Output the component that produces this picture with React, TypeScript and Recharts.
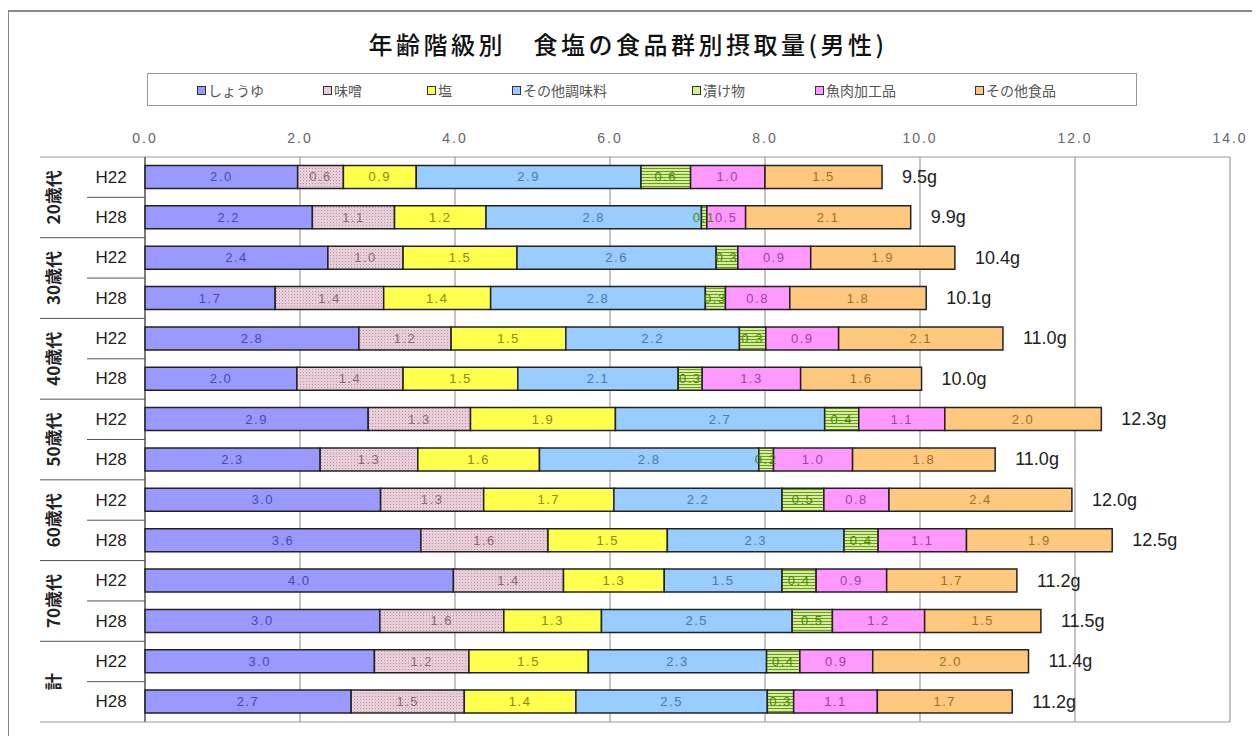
import React from 'react';
import {
  BarChart,
  Bar,
  XAxis,
  YAxis,
  CartesianGrid,
  LabelList,
} from 'recharts';

// 年齢階級 and survey year for each bar, top to bottom
const groups = ['20歳代', '30歳代', '40歳代', '50歳代', '60歳代', '70歳代', '計'];
const periods = ['H22', 'H28', 'H22', 'H28', 'H22', 'H28', 'H22', 'H28', 'H22', 'H28', 'H22', 'H28', 'H22', 'H28'];

// salt intake (g) by food group
const soySauce = [1.97, 2.16, 2.36, 1.68, 2.76, 1.96, 2.88, 2.26, 3.04, 3.56, 3.98, 3.03, 2.96, 2.66];
const miso = [0.59, 1.06, 0.97, 1.4, 1.19, 1.37, 1.32, 1.26, 1.33, 1.64, 1.42, 1.6, 1.22, 1.46];
const salt = [0.94, 1.18, 1.47, 1.38, 1.48, 1.48, 1.87, 1.57, 1.68, 1.54, 1.3, 1.26, 1.54, 1.44];
const otherSeasoning = [2.9, 2.78, 2.57, 2.77, 2.24, 2.07, 2.7, 2.83, 2.17, 2.28, 1.52, 2.46, 2.3, 2.47];
const pickles = [0.64, 0.07, 0.28, 0.26, 0.34, 0.31, 0.44, 0.19, 0.54, 0.44, 0.44, 0.52, 0.43, 0.34];
const fishMeat = [0.96, 0.5, 0.94, 0.83, 0.94, 1.27, 1.11, 1.02, 0.84, 1.14, 0.91, 1.19, 0.94, 1.08];
const otherFood = [1.51, 2.13, 1.86, 1.76, 2.12, 1.56, 2.02, 1.84, 2.36, 1.88, 1.68, 1.5, 2.01, 1.74];
const totals = ['9.5', '9.9', '10.4', '10.1', '11.0', '10.0', '12.3', '11.0', '12.0', '12.5', '11.2', '11.5', '11.4', '11.2'];

const xTicks = [0, 2, 4, 6, 8, 10, 12, 14];

const series = [
  { key: 'soy', name: 'しょうゆ', values: soySauce, fill: '#9999ff', text: '#4848b8' },
  { key: 'miso', name: '味噌', values: miso, fill: 'url(#misoPattern)', swatch: '#e8ccd8', text: '#8a6878' },
  { key: 'salt', name: '塩', values: salt, fill: '#ffff4d', text: '#8a8a10' },
  { key: 'otherSeasoning', name: 'その他調味料', values: otherSeasoning, fill: '#99ccff', text: '#4a78b0' },
  { key: 'pickles', name: '漬け物', values: pickles, fill: 'url(#picklePattern)', swatch: '#d4ee9a', text: '#4a8a00' },
  { key: 'fishMeat', name: '魚肉加工品', values: fishMeat, fill: '#ff99ff', text: '#a040a8' },
  { key: 'otherFood', name: 'その他食品', values: otherFood, fill: '#ffc87f', text: '#a07020' },
];

const data = periods.map((p, i) => {
  const row: Record<string, any> = { id: `${i}-${p}`, total: totals[i] };
  series.forEach((s) => { row[s.key] = s.values[i]; });
  return row;
});

// layout
const W = 1260;
const H = 736;
const PLOT_TOP = 157;
const PLOT_BOTTOM = 722;
const PLOT_LEFT = 145;
const PLOT_RIGHT = 1230;
const ROW = (PLOT_BOTTOM - PLOT_TOP) / periods.length;
const LEGEND_X = [202, 328, 432, 517, 697, 820, 980];

const NUM_FONT = '"Liberation Sans", Arial, sans-serif';
const JP_FONT = '"Noto Sans CJK JP", "Noto Sans", sans-serif';

const RowTick = (props: any) => {
  const { y, index } = props;
  const half = ROW / 2;
  const first = index % 2 === 0;
  return (
    <g>
      <text x={111} y={y} textAnchor="middle" dominantBaseline="central"
        fontSize={17} fontFamily={NUM_FONT} fill="#222">{periods[index]}</text>
      {first ? (
        <>
          <line x1={87} x2={PLOT_LEFT} y1={y + half} y2={y + half} stroke="#555" />
          <text transform={`translate(52, ${y + half}) rotate(-90)`} textAnchor="middle"
            dominantBaseline="central" fontSize={17} fontWeight="bold" fontFamily={JP_FONT} fill="#222">
            {groups[index / 2]}
          </text>
        </>
      ) : (
        <line x1={40} x2={index === periods.length - 1 ? PLOT_RIGHT : PLOT_LEFT}
          y1={y + half} y2={y + half} stroke={index === periods.length - 1 ? '#999' : '#555'} />
      )}
      {index === 0 && <line x1={40} x2={PLOT_LEFT} y1={y - half} y2={y - half} stroke="#999" />}
    </g>
  );
};

const makeSegLabel = (color: string) => (props: any) => {
  const { x, y, width, height, value } = props;
  return (
    <text x={x + width / 2} y={y + height / 2} textAnchor="middle" dominantBaseline="central"
      fontSize={13} fontFamily={NUM_FONT} letterSpacing={1.5} fill={color}>
      {Number(value).toFixed(1)}
    </text>
  );
};

const TotalLabel = (props: any) => {
  const { x, y, width, height, value } = props;
  return (
    <text x={x + width + 20} y={y + height / 2} dominantBaseline="central"
      fontSize={18} fontFamily={NUM_FONT} fill="#222">{value}g</text>
  );
};

export default function App() {
  return (
    <div style={{ position: 'relative', width: W, height: H, margin: '-8px 0 0 -8px', background: '#fff', overflow: 'hidden' }}>
      <div style={{ position: 'absolute', left: 7, top: 10, width: W, height: H, border: '2px solid #888', boxSizing: 'border-box' }} />
      <div style={{
        position: 'absolute', left: 0, width: W - 4, top: 26, textAlign: 'center',
        fontFamily: JP_FONT, fontSize: 24, fontWeight: 500, letterSpacing: 3.5, color: '#111',
      }}>
        年齢階級別　食塩の食品群別摂取量(男性)
      </div>
      <div style={{
        position: 'absolute', left: 147, top: 73, width: 990, height: 33,
        border: '1.5px solid #999', boxSizing: 'border-box',
      }} />
      {series.map((s, i) => (
        <div key={s.key} style={{
          position: 'absolute', left: LEGEND_X[i] - 5, top: 80, height: 20,
          display: 'flex', alignItems: 'center', fontFamily: JP_FONT, fontSize: 14, color: '#555',
        }}>
          <span style={{
            display: 'inline-block', width: 7, height: 7, border: '1.5px solid #333',
            background: s.swatch || s.fill, marginRight: 2,
          }} />
          {s.name}
        </div>
      ))}
      <BarChart
        width={W}
        height={H}
        data={data}
        layout="vertical"
        barCategoryGap="21%"
        margin={{ top: PLOT_TOP - 30, right: W - PLOT_RIGHT, bottom: H - PLOT_BOTTOM, left: 0 }}
        style={{ position: 'absolute', left: 0, top: 0 }}
      >
        <defs>
          <pattern id="misoPattern" width="3" height="3" patternUnits="userSpaceOnUse">
            <rect width="3" height="3" fill="#e8ccd8" />
            <rect width="1" height="1" fill="#b898a8" />
          </pattern>
          <pattern id="picklePattern" width="4" height="3" patternUnits="userSpaceOnUse">
            <rect width="4" height="3" fill="#d4ee9a" />
            <rect width="4" height="1" fill="#6a9a20" />
          </pattern>
        </defs>
        <CartesianGrid vertical horizontal={false} stroke="#888" />
        <XAxis
          type="number"
          orientation="top"
          domain={[0, 14]}
          ticks={xTicks}
          height={30}
          tickFormatter={(v) => Number(v).toFixed(1)}
          tick={{ fontSize: 14, fill: '#666', fontFamily: NUM_FONT, letterSpacing: 2 }}
          tickLine={false}
          tickMargin={8}
          axisLine={{ stroke: '#999' }}
        />
        <YAxis
          type="category"
          dataKey="id"
          width={PLOT_LEFT}
          tick={<RowTick />}
          tickLine={false}
          axisLine={{ stroke: '#333' }}
          interval={0}
        />
        {series.map((s, i) => (
          <Bar key={s.key} dataKey={s.key} name={s.name} stackId="a" fill={s.fill}
            stroke="#222" strokeWidth={1.5} isAnimationActive={false}>
            <LabelList dataKey={s.key} content={makeSegLabel(s.text)} />
            {i === series.length - 1 && <LabelList dataKey="total" content={<TotalLabel />} />}
          </Bar>
        ))}
      </BarChart>
    </div>
  );
}
